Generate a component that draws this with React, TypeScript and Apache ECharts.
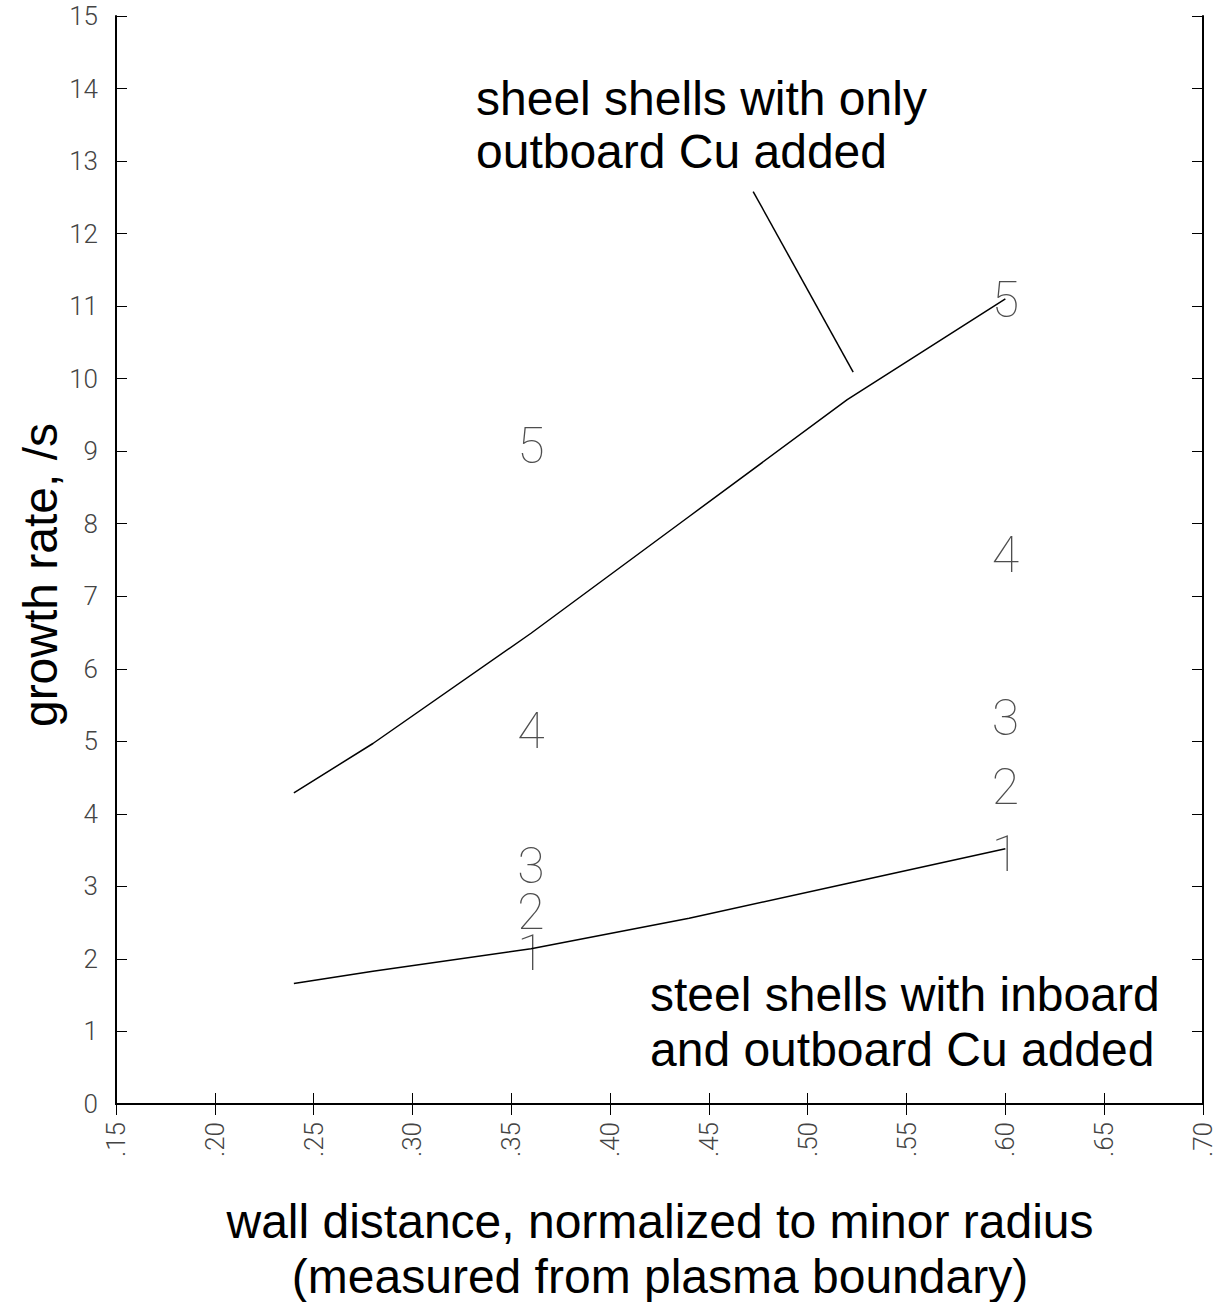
import React, { useEffect, useRef } from "react";
import * as echarts from "echarts";

// x positions (wall distance / minor radius)
const xValues = [0.24, 0.28, 0.36, 0.44, 0.52, 0.6];
// upper curve: steel shells with only outboard Cu added
const upperCurve = [4.29, 4.97, 6.49, 8.1, 9.71, 11.1];
// lower curve: steel shells with inboard and outboard Cu added
const lowerCurve = [1.66, 1.83, 2.14, 2.56, 3.04, 3.52];

// numbered markers
const markerX = [0.36, 0.36, 0.36, 0.36, 0.36, 0.6, 0.6, 0.6, 0.6, 0.6];
const markerY = [2.08, 2.65, 3.28, 5.14, 9.07, 3.44, 4.37, 5.32, 7.57, 11.09];
const markerLabel = ["1", "2", "3", "4", "5", "1", "2", "3", "4", "5"];

// annotation leader line
const leaderX = [0.4724, 0.523];
const leaderY = [12.58, 10.09];

const xTickValues = [0.15, 0.2, 0.25, 0.3, 0.35, 0.4, 0.45, 0.5, 0.55, 0.6, 0.65, 0.7];
const xTickLabels = [".15", ".20", ".25", ".30", ".35", ".40", ".45", ".50", ".55", ".60", ".65", ".70"];
const yTickLabels = ["0", "1", "2", "3", "4", "5", "6", "7", "8", "9", "10", "11", "12", "13", "14", "15"];

const topNote = ["sheel shells with only", "outboard Cu added"];
const bottomNote = ["steel shells with inboard", "and outboard Cu added"];
const xTitle = ["wall distance, normalized to minor radius", "(measured from plasma boundary)"];
const yTitle = "growth rate, /s";

const TEXT_FONT = "'Liberation Sans', Arial, Helvetica, sans-serif";
const THIN_FONT = "Roboto, 'Noto Sans', sans-serif";

export default function App() {
  const ref = useRef<HTMLDivElement>(null);
  useEffect(() => {
    if (!ref.current) return;
    const chart = echarts.init(ref.current, undefined, { renderer: "svg" });

    const xLabelFor = (v: number) => {
      const i = xTickValues.findIndex((t) => Math.abs(t - v) < 1e-6);
      return i >= 0 ? xTickLabels[i] : "";
    };
    const yLabelFor = (v: number) => {
      const i = Math.round(v);
      return yTickLabels[i] ?? "";
    };

    const axisLine = { show: true, lineStyle: { color: "#000", width: 2 } };
    const axisTick = { show: true, inside: true, length: 11, lineStyle: { color: "#000", width: 1 } };
    const tickLabelStyle = {
      fontFamily: THIN_FONT,
      fontWeight: 300 as any,
      fontSize: 26,
      color: "#444",
    };

    const textEl = (text: string, x: number, y: number, align: string, extra: any = {}) => ({
      type: "text",
      x,
      y,
      ...extra,
      style: {
        text,
        fill: "#000",
        font: `48px ${TEXT_FONT}`,
        textAlign: align,
        textVerticalAlign: "middle",
      },
    });

    chart.setOption({
      animation: false,
      backgroundColor: "#fff",
      grid: { left: 116, top: 16, width: 1087, height: 1088, containLabel: false },
      xAxis: [
        {
          type: "value",
          position: "bottom",
          min: 0.15,
          max: 0.7,
          interval: 0.05,
          axisLine,
          axisTick,
          splitLine: { show: false },
          axisLabel: {
            ...tickLabelStyle,
            rotate: 90,
            margin: 18,
            formatter: (v: number) => xLabelFor(v),
          },
        },
        {
          type: "value",
          position: "top",
          min: 0.15,
          max: 0.7,
          interval: 0.05,
          axisLine,
          axisTick,
          splitLine: { show: false },
          axisLabel: { show: false },
        },
      ],
      yAxis: [
        {
          type: "value",
          position: "left",
          min: 0,
          max: 15,
          interval: 1,
          axisLine,
          axisTick,
          splitLine: { show: false },
          axisLabel: {
            ...tickLabelStyle,
            margin: 18,
            formatter: (v: number) => yLabelFor(v),
          },
        },
        {
          type: "value",
          position: "right",
          min: 0,
          max: 15,
          interval: 1,
          axisLine,
          axisTick,
          splitLine: { show: false },
          axisLabel: { show: false },
        },
      ],
      series: [
        {
          type: "line",
          data: xValues.map((x, i) => [x, upperCurve[i]]),
          symbol: "none",
          lineStyle: { color: "#000", width: 1.5 },
        },
        {
          type: "line",
          data: xValues.map((x, i) => [x, lowerCurve[i]]),
          symbol: "none",
          lineStyle: { color: "#000", width: 1.5 },
        },
        {
          type: "line",
          data: leaderX.map((x, i) => [x, leaderY[i]]),
          symbol: "none",
          lineStyle: { color: "#000", width: 1.5 },
        },
        {
          type: "scatter",
          data: markerX.map((x, i) => [x, markerY[i], markerLabel[i]]),
          symbolSize: 1,
          itemStyle: { color: "rgba(0,0,0,0)" },
          label: {
            show: true,
            position: "inside",
            formatter: (p: any) => p.data[2],
            fontFamily: THIN_FONT,
            fontWeight: 100 as any,
            fontSize: 50,
            lineHeight: 34,
            color: "#222",
            align: "center",
            verticalAlign: "middle",
          },
        },
      ],
      graphic: [
        textEl(topNote[0], 476, 98, "left"),
        textEl(topNote[1], 476, 151, "left"),
        textEl(bottomNote[0], 650, 994, "left"),
        textEl(bottomNote[1], 650, 1049, "left"),
        textEl(xTitle[0], 660, 1221, "center"),
        textEl(xTitle[1], 660, 1276, "center"),
        textEl(yTitle, 40, 575, "center", { rotation: Math.PI / 2 }),
      ],
    });
    return () => chart.dispose();
  }, []);
  return (
    <div
      ref={ref}
      style={{ position: "absolute", left: 0, top: 0, width: 1221, height: 1302 }}
    />
  );
}
